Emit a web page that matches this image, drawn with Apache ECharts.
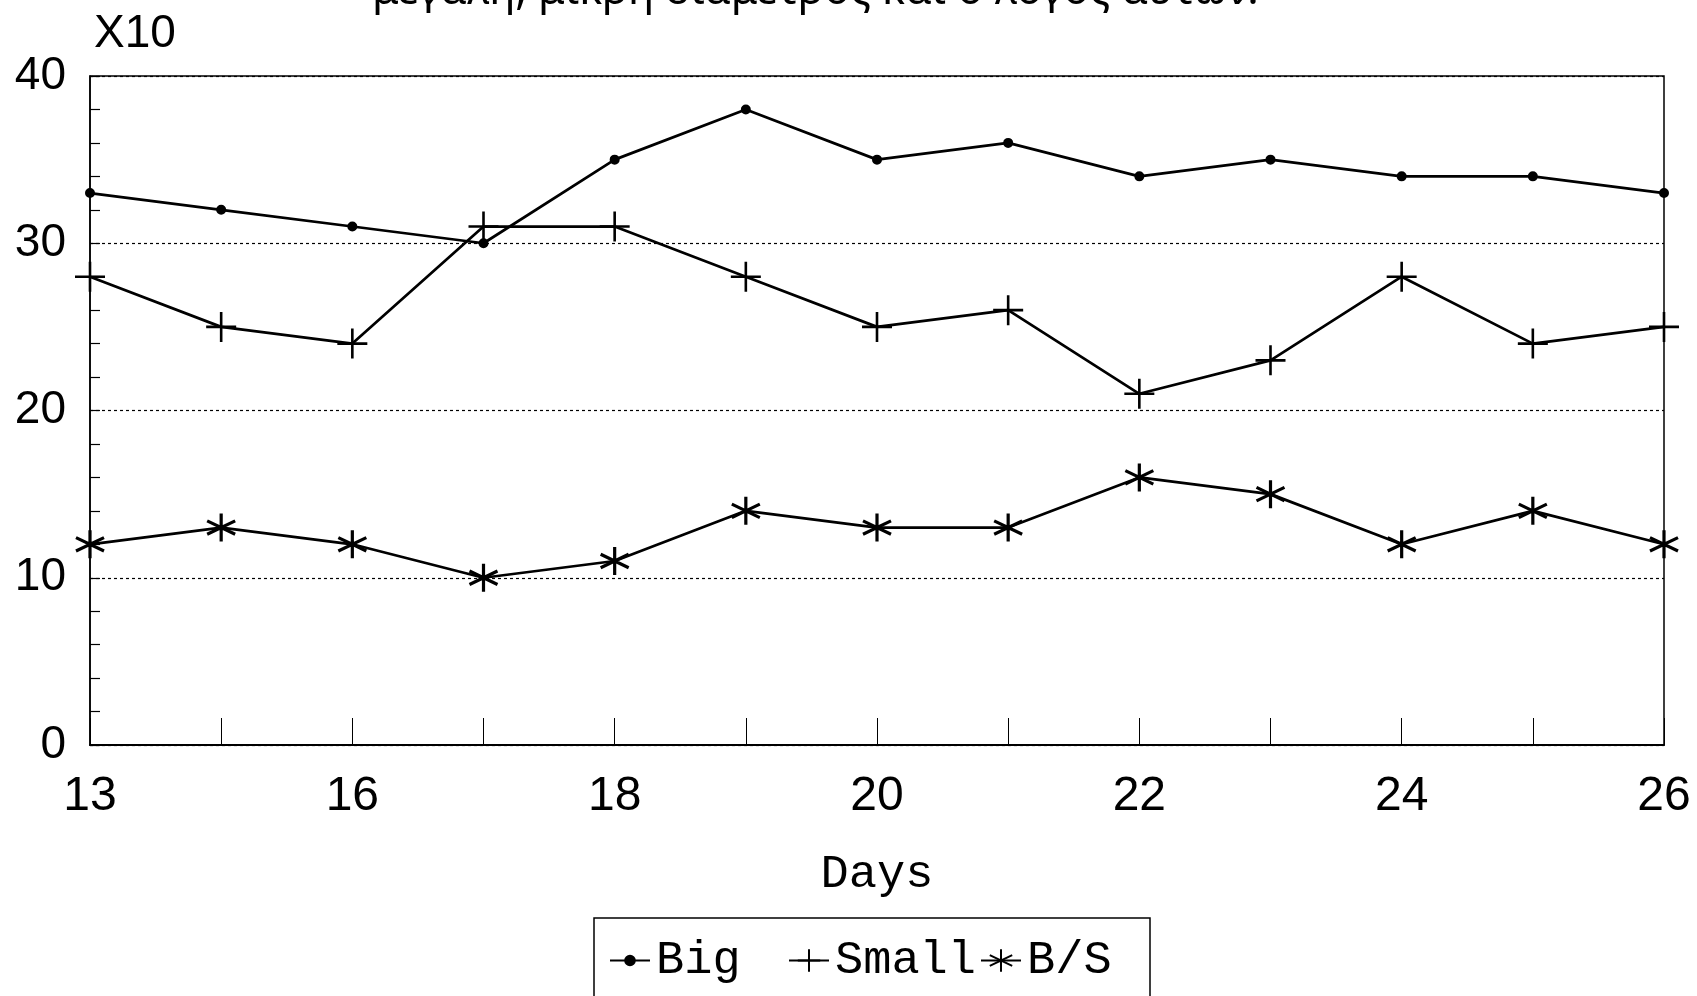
<!DOCTYPE html>
<html>
<head>
<meta charset="utf-8">
<script src="https://cdn.jsdelivr.net/npm/echarts@6/dist/echarts.min.js"></script>
<style>
  html, body { margin: 0; padding: 0; background: #fff; }
  #chart { width: 1697px; height: 996px; }
</style>
</head>
<body>
<div id="chart"></div>
<script>
// Days of measurement
const days = ['13', '15', '16', '17', '18', '19', '20', '21', '22', '23', '24', '25', '26'];
// Values in units of x10
const bigValues   = [33, 32, 31, 30, 35, 38, 35, 36, 34, 35, 34, 34, 33];
const smallValues = [28, 25, 24, 31, 31, 28, 25, 26, 21, 23, 28, 24, 25];
const ratioValues = [12, 13, 12, 10, 11, 14, 13, 13, 16, 15, 12, 14, 12];
const seriesNames = ['Big', 'Small', 'B/S'];
const titleText = 'μεγαλη, μικρη διαμετρος και ο λογος αυτων.';
const scaleText = 'X10';

const plusPath = 'path://M5,0L5,10M0,5L10,5';
const starPath = 'path://M5,0L5,10M0.8,2.6L9.2,7.4M0.8,7.4L9.2,2.6';

const ink = '#000';
const lineSeries = (name, data, symbol, size, stroke) => ({
  name: name,
  type: 'line',
  data: data,
  symbol: symbol,
  symbolSize: size,
  showAllSymbol: true,
  lineStyle: { color: ink, width: 2.7 },
  itemStyle: { color: ink, borderColor: ink, borderWidth: stroke },
  emphasis: { disabled: true },
  z: 3
});

// one legend per entry so each sits at its own place inside the shared frame
const legendAt = (name, left, iconHeight) => ({
  data: [name],
  left: left, top: 937,
  padding: 0,
  itemWidth: 40, itemHeight: iconHeight,
  selectedMode: false,
  textStyle: { fontFamily: 'Liberation Mono', fontSize: 47, color: ink, padding: [0, 0, 0, 1] }
});

const chart = echarts.init(document.getElementById('chart'), null, { renderer: 'canvas' });
chart.setOption({
  backgroundColor: '#fff',
  animation: false,
  grid: {
    left: 90, right: 33, top: 76, bottom: 251,
    show: true, borderColor: ink, borderWidth: 1.5, backgroundColor: 'transparent'
  },
  graphic: [
    {
      type: 'text', left: 372, top: -30,
      style: { text: titleText, font: '43px "Noto Sans"', fill: ink }
    },
    {
      type: 'text', left: 94, top: 11,
      style: { text: scaleText, font: '46px "Liberation Sans"', fill: ink }
    },
    {
      type: 'rect',
      shape: { x: 594, y: 918, width: 556, height: 140 },
      style: { fill: 'none', stroke: ink, lineWidth: 1.5 }
    }
  ],
  xAxis: {
    type: 'category',
    data: days,
    boundaryGap: false,
    name: 'Days',
    nameLocation: 'middle',
    nameGap: 106,
    nameTextStyle: { fontFamily: 'Liberation Mono', fontSize: 47, color: ink },
    axisLine: { lineStyle: { color: ink, width: 2 } },
    axisTick: { show: true, inside: true, length: 27, interval: 0, lineStyle: { color: ink, width: 1 } },
    axisLabel: { interval: 1, margin: 28, fontFamily: 'Liberation Sans', fontSize: 48, color: ink },
    splitLine: { show: false }
  },
  yAxis: {
    type: 'value',
    min: 0, max: 40, interval: 10,
    axisLine: { show: true, lineStyle: { color: ink, width: 1.5 } },
    axisTick: { show: true, inside: true, length: 10, lineStyle: { color: ink, width: 1.2 } },
    minorTick: { show: true, splitNumber: 5, length: 10, lineStyle: { color: ink, width: 1.2 } },
    axisLabel: { margin: 24, fontFamily: 'Liberation Sans', fontSize: 46, color: ink },
    splitLine: { show: true, lineStyle: { color: ink, width: 1.2, type: [3, 3] } }
  },
  legend: [
    legendAt(seriesNames[0], 609, 12),
    legendAt(seriesNames[1], 788, 28),
    legendAt(seriesNames[2], 980, 28)
  ],
  series: [
    lineSeries(seriesNames[0], bigValues, 'circle', 8, 2),
    lineSeries(seriesNames[1], smallValues, plusPath, 30, 2.6),
    lineSeries(seriesNames[2], ratioValues, starPath, 28, 3.2)
  ]
});
</script>
</body>
</html>
